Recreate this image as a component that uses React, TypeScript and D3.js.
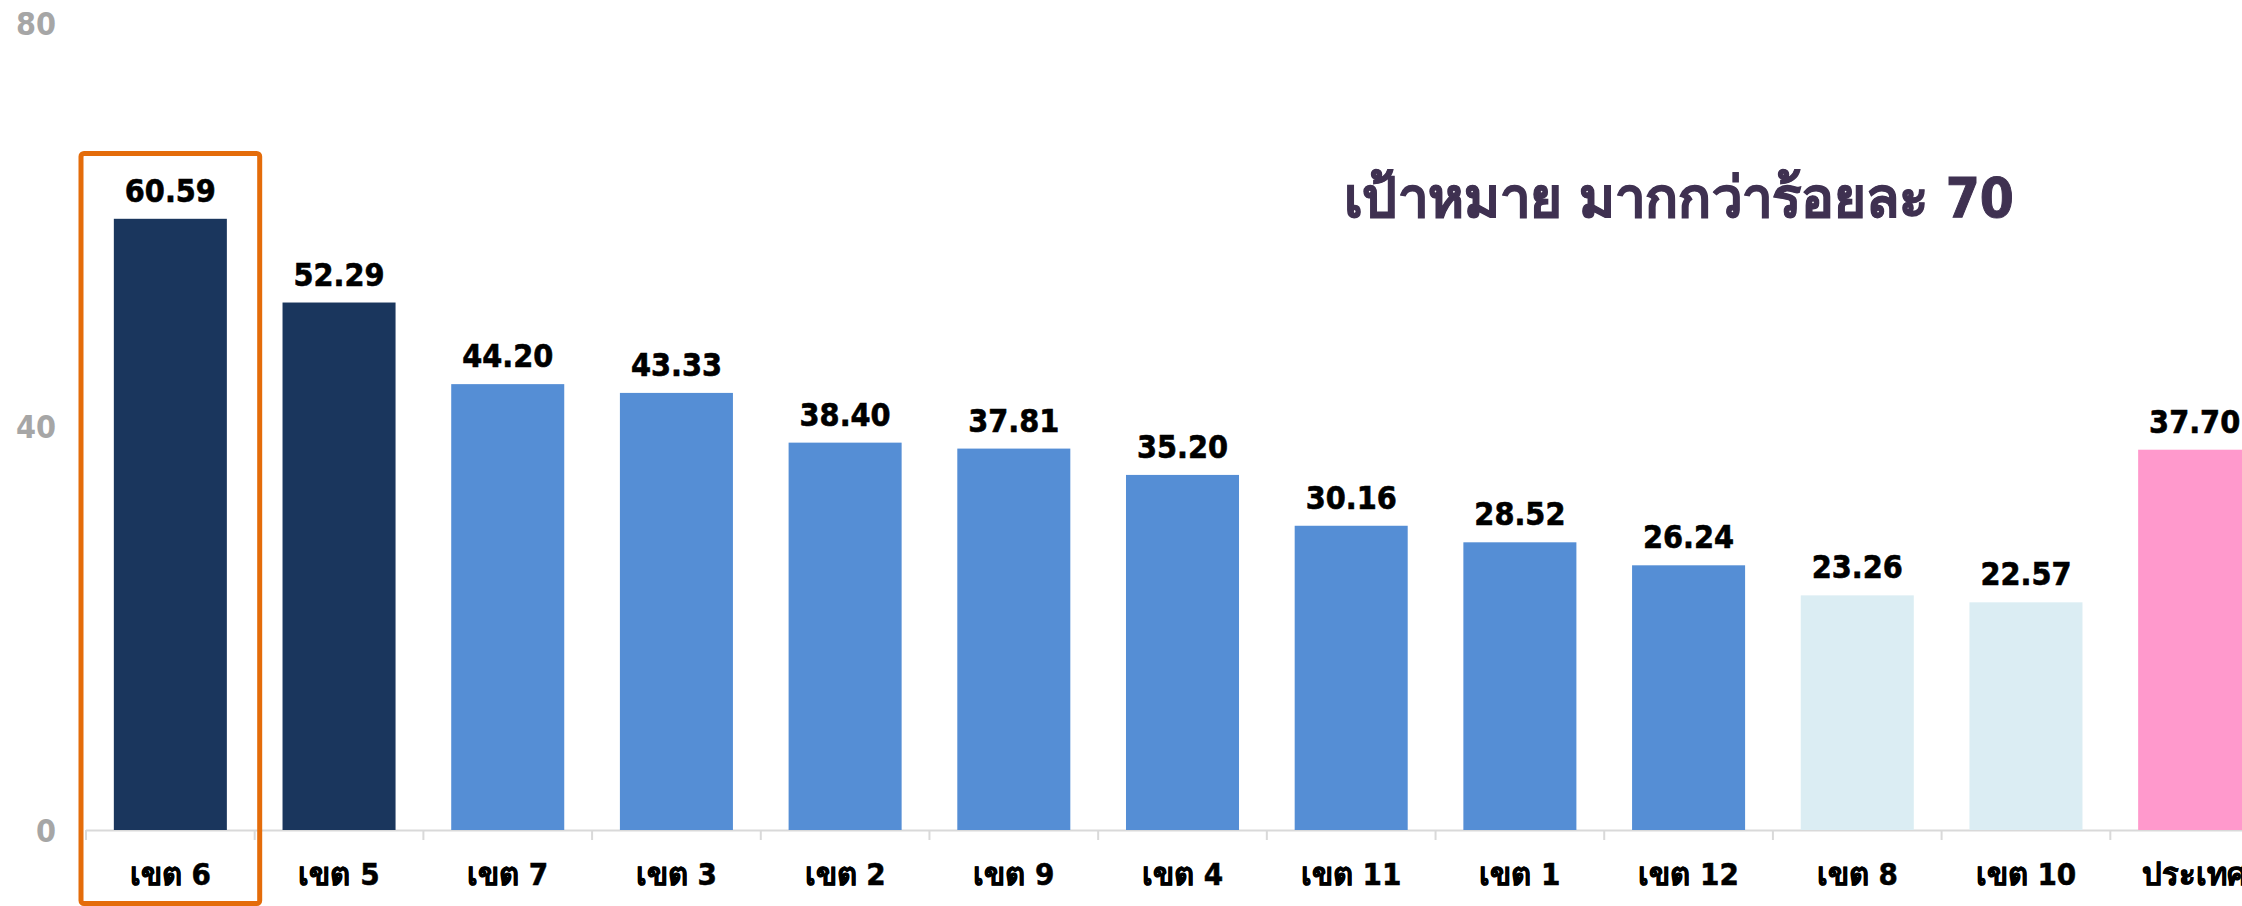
import React from "react";
import * as d3 from "d3";

const categories = ["เขต 6", "เขต 5", "เขต 7", "เขต 3", "เขต 2", "เขต 9", "เขต 4", "เขต 11", "เขต 1", "เขต 12", "เขต 8", "เขต 10", "ประเทศ"];
const values = [60.59, 52.29, 44.2, 43.33, 38.4, 37.81, 35.2, 30.16, 28.52, 26.24, 23.26, 22.57, 37.7];
const colorGroups = ["top", "top", "mid", "mid", "mid", "mid", "mid", "mid", "mid", "mid", "low", "low", "country"];
const yTicks = [0, 40, 80];
const titleText = "เป้าหมาย มากกว่าร้อยละ 70";
const highlighted = "เขต 6";

const palette: Record<string, string> = {
  top: "#1A365D",
  mid: "#558ED5",
  low: "#DBEDF3",
  country: "#FF99CC",
};

const W = 2242;
const H = 906;
const baseY = 830;
const topY = 23;
const x0 = 86;
const x1 = 2279;

export default function App() {
  const x = d3.scaleBand<string>().domain(categories).range([x0, x1]).paddingInner(0.33).paddingOuter(0.165);
  const y = d3.scaleLinear().domain([0, 80]).range([baseY, topY]);
  const step = x.step();
  const font = "'DejaVu Sans Condensed', 'DejaVu Sans', Tahoma, sans-serif";
  const hx = (x(highlighted) as number) - (step - x.bandwidth()) / 2;

  return (
    <svg width={W} height={H} style={{ position: "absolute", left: 0, top: 0, background: "#fff" }}>
      {yTicks.map((t) => (
        <text key={t} x={56} y={y(t)} dy="0.36em" textAnchor="end" fill="#A6A6A6" fontSize={32} fontWeight="bold" fontFamily={font} fontStretch="condensed">
          {t}
        </text>
      ))}
      <line x1={x0} x2={W} y1={baseY + 0.5} y2={baseY + 0.5} stroke="#D9D9D9" strokeWidth={2} />
      {d3.range(categories.length + 1).map((i) => (
        <line key={i} x1={x0 + i * step} x2={x0 + i * step} y1={baseY} y2={baseY + 10} stroke="#D9D9D9" strokeWidth={2} />
      ))}
      {categories.map((c, i) => (
        <g key={c}>
          <rect x={x(c)} y={y(values[i])} width={x.bandwidth()} height={baseY - y(values[i])} fill={palette[colorGroups[i]]} />
          <text x={(x(c) as number) + x.bandwidth() / 2} y={y(values[i]) - 17} textAnchor="middle" fill="#000" stroke="#000" strokeWidth={0.6} fontSize={32} fontWeight="bold" fontFamily={font} fontStretch="condensed">
            {values[i].toFixed(2)}
          </text>
          <text x={(x(c) as number) + x.bandwidth() / 2} y={885} textAnchor="middle" fill="#000" stroke="#000" strokeWidth={0.5} fontSize={31} fontWeight="bold" fontFamily={font} fontStretch="condensed">
            {c}
          </text>
        </g>
      ))}
      <rect x={hx - 5} y={153.5} width={step + 10} height={750} rx={3} fill="none" stroke="#E46C0A" strokeWidth={5} />
      <text x={1344} y={217} textAnchor="start" fill="#3F3151" stroke="#3F3151" strokeWidth={1} fontSize={56} fontWeight="bold" fontFamily={font} fontStretch="condensed" textLength={670} lengthAdjust="spacingAndGlyphs">
        {titleText}
      </text>
    </svg>
  );
}
